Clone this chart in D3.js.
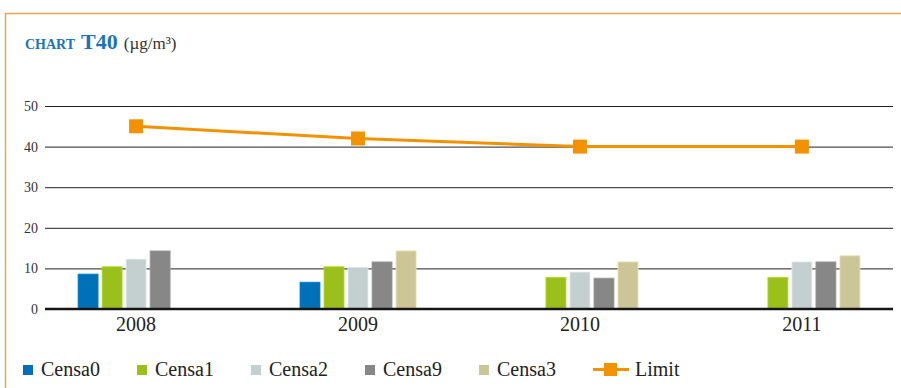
<!DOCTYPE html>
<html>
<head>
<meta charset="utf-8">
<script src="https://cdn.jsdelivr.net/npm/d3@7"></script>
<style>
  html, body { margin: 0; padding: 0; background: #fff; }
  svg text { font-family: "Liberation Serif", "DejaVu Serif", serif !important; }
</style>
</head>
<body>
<svg id="chart" width="901" height="388"></svg>
<script>
// Annual mean concentrations per station (µg/m³)
const years = ["2008", "2009", "2010", "2011"];
const seriesNames = ["Censa0", "Censa1", "Censa2", "Censa9", "Censa3"];
const censa0 = [8.6, 6.6, null, null];
const censa1 = [10.4, 10.4, 7.8, 7.8];
const censa2 = [12.3, 10.3, 9.1, 11.6];
const censa9 = [14.3, 11.6, 7.6, 11.6];
const censa3 = [null, 14.3, 11.6, 13.1];
const limit = [45, 42, 40, 40];
const yTicks = [0, 10, 20, 30, 40, 50];

const seriesValues = [censa0, censa1, censa2, censa9, censa3];
const colors = ["#0071b9", "#9bc01b", "#c4cfcf", "#878787", "#cbc597"];
const limitColor = "#f39200";
const serif = "'Liberation Serif', 'DejaVu Serif', serif";

const svg = d3.select("#chart");

// frame
svg.append("path")
  .attr("d", "M5.5,388 V13.5 H901")
  .attr("fill", "none")
  .attr("stroke", "#f0a24a")
  .attr("stroke-width", 1.5);

// title
const title = svg.append("text").attr("x", 25).attr("y", 49)
  .style("font-family", serif).attr("fill", "#1b74b9").attr("font-weight", "bold");
title.append("tspan").attr("font-size", 14).text("CHART");
title.append("tspan").attr("font-size", 22).attr("dx", 6).text("T40");
title.append("tspan").attr("font-size", 17).attr("font-weight", "normal").attr("fill", "#333").attr("dx", 6).text("(µg/m³)");

const x0 = d3.scaleBand().domain(years).range([45, 893]).paddingInner(0.477).paddingOuter(0.149);
const x1 = d3.scaleBand().domain(seriesNames).range([0, x0.bandwidth()]).paddingInner(0.167).paddingOuter(0);
const y = d3.scaleLinear().domain([0, 50]).range([309, 106]);

// gridlines
const grid = svg.append("g")
  .attr("transform", "translate(45,0)")
  .call(d3.axisLeft(y).tickValues(yTicks).tickSize(-848).tickFormat(""));
grid.select(".domain").remove();
grid.selectAll(".tick line").attr("stroke", "#222").attr("stroke-width", 1);

// y tick labels
const yAxis = svg.append("g")
  .attr("transform", "translate(45,0)")
  .call(d3.axisLeft(y).tickValues(yTicks).tickSize(0).tickPadding(7))
  .attr("font-family", null);
yAxis.select(".domain").remove();
yAxis.selectAll("text")
  .style("font-family", serif)
  .attr("font-size", 14)
  .attr("fill", "#333");

// bars
const groups = svg.append("g").selectAll("g")
  .data(years)
  .join("g")
  .attr("transform", d => `translate(${x0(d)},0)`);

groups.selectAll("rect")
  .data((yr, i) => seriesNames.map((s, k) => ({ s, k, v: seriesValues[k][i] })).filter(d => d.v != null))
  .join("rect")
  .attr("x", d => x1(d.s))
  .attr("width", x1.bandwidth())
  .attr("y", d => y(d.v))
  .attr("height", d => y(0) - y(d.v))
  .attr("fill", d => colors[d.k])
  .attr("stroke", d => d3.color(colors[d.k]).brighter(0.4))
  .attr("stroke-width", 0.8);

// baseline
svg.append("line")
  .attr("x1", 45).attr("x2", 893)
  .attr("y1", y(0)).attr("y2", y(0))
  .attr("stroke", "#151515").attr("stroke-width", 2.5);

// x axis labels
const xAxis = svg.append("g")
  .attr("transform", `translate(0,${y(0)})`)
  .call(d3.axisBottom(x0).tickSize(0).tickPadding(8))
  .attr("font-family", null);
xAxis.select(".domain").remove();
xAxis.selectAll("text")
  .style("font-family", serif)
  .attr("font-size", 20)
  .attr("fill", "#222");

// limit line
const cx = (d, i) => x0(years[i]) + x0.bandwidth() / 2;
svg.append("path")
  .datum(limit)
  .attr("fill", "none")
  .attr("stroke", limitColor)
  .attr("stroke-width", 3)
  .attr("d", d3.line().x(cx).y(d => y(d)));

const m = 14;
svg.append("g").selectAll("rect")
  .data(limit)
  .join("rect")
  .attr("x", (d, i) => cx(d, i) - m / 2)
  .attr("y", d => y(d) - m / 2)
  .attr("width", m).attr("height", m)
  .attr("fill", limitColor);

// legend
const legend = svg.append("g").attr("transform", "translate(23,0)");
const step = 114;
seriesNames.forEach((name, k) => {
  const g = legend.append("g").attr("transform", `translate(${k * step},0)`);
  g.append("rect").attr("x", 0).attr("y", 365).attr("width", 10).attr("height", 10).attr("fill", colors[k]);
  g.append("text").attr("x", 18).attr("y", 376).attr("font-size", 20).style("font-family", serif)
    .attr("fill", "#222").text(name);
});
const lg = legend.append("g").attr("transform", `translate(${seriesNames.length * step},0)`);
lg.append("line").attr("x1", 0).attr("x2", 36).attr("y1", 369.5).attr("y2", 369.5)
  .attr("stroke", limitColor).attr("stroke-width", 3);
lg.append("rect").attr("x", 11).attr("y", 363).attr("width", 13).attr("height", 13).attr("fill", limitColor);
lg.append("text").attr("x", 42).attr("y", 376).attr("font-size", 20).style("font-family", serif)
  .attr("fill", "#222").text("Limit");
</script>
</body>
</html>
